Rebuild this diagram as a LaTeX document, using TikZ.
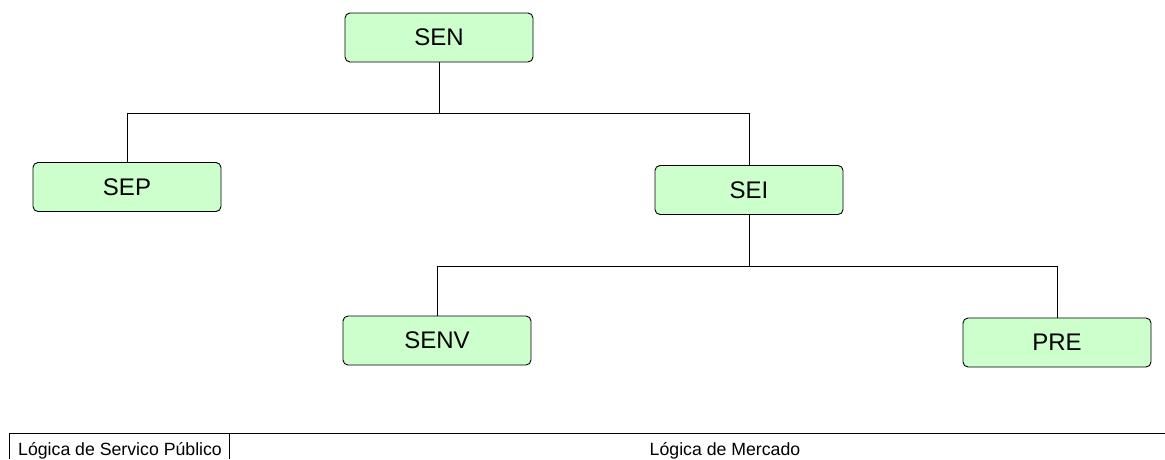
\documentclass[tikz,border=0pt]{standalone}
\usepackage{fontspec}
\setmainfont{Liberation Sans}
\usepackage{xcolor}
\usetikzlibrary{positioning, calc}
\definecolor{boxgreen}{RGB}{204,255,204}
\tikzset{
    orgnode/.style = {draw=black, fill=boxgreen, rounded corners=5pt,
        minimum width=188pt, minimum height=49pt, inner sep=0pt,
        line width=0.9pt, font=\fontsize{24}{28}\selectfont},
    logic/.style = {inner sep=0pt, font=\fontsize{17.7}{20}\selectfont},
    link/.style = {draw=black, line width=0.9pt},
}

\begin{document}
\begin{tikzpicture}[x=1pt,y=-1pt]
            \useasboundingbox (0,0) rectangle (1165,459);
            \node (sen) [orgnode] at (439,37.5) {SEN};
            \node (sep) [orgnode] at (127,187) {SEP};
            \node (sei) [orgnode] at (749,190) {SEI};
            \node (senv) [orgnode] at (437,340.5) {SENV};
            \node (pre) [orgnode] at (1057,342.5) {PRE};
            % first level
            \coordinate (top) at (439,113);
            \draw[link] (sen.south) -- (top);
            \draw[link] (top) -| (sep.north);
            \draw[link] (top) -| (sei.north);
            % second level
            \coordinate (mid) at (749,266);
            \draw[link] (sei.south) -- (mid);
            \draw[link] (mid) -| (senv.north);
            \draw[link] (mid) -| (pre.north);
            % bottom strip
            \coordinate (sl) at (9,433);
            \coordinate (sr) at (1165,433);
            \coordinate (sm) at (229,433);
            \coordinate (bl) at (9,459);
            \coordinate (bm) at (229,459);
            \draw[link] (bl) -- (sl) -- (sr);
            \draw[link] (sm) -- (bm);
            \node (publico) [logic, anchor=base west] at (18,455.5) {Lógica de Servico Público};
            \node (mercado) [logic, anchor=base] at (725,455.5) {Lógica de Mercado};
\end{tikzpicture}
\end{document}
